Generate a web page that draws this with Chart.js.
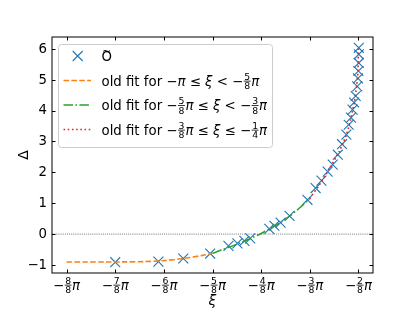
<!DOCTYPE html>
<html>
<head>
<meta charset="utf-8">
<script src="https://cdn.jsdelivr.net/npm/chart.js@4.4.1/dist/chart.umd.min.js"></script>
<style>
  html, body { margin: 0; padding: 0; background: #fff; }
  #wrap { width: 415px; height: 312px; }
</style>
</head>
<body>
<div id="wrap"><canvas id="chart" width="415" height="312"></canvas></div>
<script>
// xi is given in units of pi
const pointXi = [-0.875, -0.764, -0.700, -0.631, -0.584, -0.561, -0.543, -0.528, -0.479, -0.466, -0.450, -0.427,
  -0.381, -0.360, -0.345, -0.329, -0.316, -0.303, -0.292, -0.281, -0.275, -0.269, -0.265, -0.261, -0.257,
  -0.253, -0.251, -0.250, -0.249, -0.249, -0.249];
const pointDelta = [-0.91, -0.89, -0.79, -0.63, -0.38, -0.30, -0.22, -0.14, 0.17, 0.27, 0.37, 0.59,
  1.11, 1.49, 1.73, 2.02, 2.25, 2.57, 2.91, 3.22, 3.54, 3.77, 4.03, 4.26, 4.47,
  4.78, 5.04, 5.28, 5.54, 5.82, 6.03];

const fit1Xi = [-1, -0.95, -0.9, -0.85, -0.8, -0.75, -0.7, -0.65, -0.625];
const fit1Delta = [-0.905, -0.905, -0.905, -0.90, -0.89, -0.86, -0.79, -0.69, -0.62];

const fit2Xi = [-0.625, -0.6, -0.575, -0.55, -0.525, -0.5, -0.475, -0.45, -0.425, -0.4, -0.375];
const fit2Delta = [-0.62, -0.51, -0.39, -0.27, -0.13, 0.02, 0.19, 0.38, 0.6, 0.86, 1.15];

const fit3Xi = [-0.375, -0.35, -0.325, -0.3, -0.29, -0.28, -0.27, -0.265, -0.26, -0.255, -0.252, -0.251, -0.25];
const fit3Delta = [1.15, 1.6, 2.1, 2.66, 2.93, 3.25, 3.7, 4.0, 4.3, 4.75, 5.1, 5.3, 6.0];

const xTickNums = [8, 7, 6, 5, 4, 3, 2];   // tick at -n/8 pi
const yTicks = [-1, 0, 1, 2, 3, 4, 5, 6];
const xRange = [-1.0375, -0.2125];
const yRange = [-1.26, 6.38];

const FONT = '"DejaVu Sans", sans-serif';
const TXT = 13.3;

function toPts(xs, ys) {
  return xs.map((x, i) => ({ x: x, y: ys[i] }));
}

// parts: plain string, {i: 'x'} italic, {n:'5', d:'8'} fraction
function mathWidth(ctx, parts, size) {
  let w = 0;
  parts.forEach(p => {
    if (typeof p === 'string') { ctx.font = size + 'px ' + FONT; w += ctx.measureText(p).width; }
    else if (p.i) { ctx.font = 'italic ' + size + 'px ' + FONT; w += ctx.measureText(p.i).width; }
    else {
      ctx.font = (size * 0.7) + 'px ' + FONT;
      w += Math.max(ctx.measureText(p.n).width, ctx.measureText(p.d).width) + 2;
    }
  });
  return w;
}

function drawMath(ctx, parts, x, y, size, align) {
  let cx = x;
  if (align === 'center') cx = x - mathWidth(ctx, parts, size) / 2;
  ctx.fillStyle = '#000';
  ctx.textBaseline = 'alphabetic';
  ctx.textAlign = 'left';
  parts.forEach(p => {
    if (typeof p === 'string') {
      ctx.font = size + 'px ' + FONT;
      ctx.fillText(p, cx, y);
      cx += ctx.measureText(p).width;
    } else if (p.i) {
      ctx.font = 'italic ' + size + 'px ' + FONT;
      ctx.fillText(p.i, cx, y);
      cx += ctx.measureText(p.i).width;
    } else {
      const s = size * 0.7;
      ctx.font = s + 'px ' + FONT;
      const wn = ctx.measureText(p.n).width, wd = ctx.measureText(p.d).width;
      const w = Math.max(wn, wd) + 2;
      const bar = y - size * 0.33;
      ctx.fillText(p.n, cx + (w - wn) / 2, bar - 1.3);
      ctx.fillText(p.d, cx + (w - wd) / 2, bar + 1.3 + s * 0.73);
      ctx.fillRect(cx + 0.5, bar - 0.4, w - 1, 0.8);
      cx += w;
    }
  });
}

const decorPlugin = {
  id: 'decor',
  afterDraw(chart) {
    const ctx = chart.ctx;
    const a = chart.chartArea;
    const xs = chart.scales.x, ys = chart.scales.y;
    ctx.save();
    // frame
    ctx.strokeStyle = '#000';
    ctx.lineWidth = 1;
    ctx.strokeRect(a.left, a.top, a.right - a.left, a.bottom - a.top);
    // inward ticks on all sides
    ctx.beginPath();
    xTickNums.forEach(n => {
      const px = Math.round(xs.getPixelForValue(-n / 8)) + 0.5;
      ctx.moveTo(px, a.bottom); ctx.lineTo(px, a.bottom - 3.5);
      ctx.moveTo(px, a.top); ctx.lineTo(px, a.top + 3.5);
    });
    yTicks.forEach(v => {
      const py = Math.round(ys.getPixelForValue(v)) + 0.5;
      ctx.moveTo(a.left, py); ctx.lineTo(a.left + 3.5, py);
      ctx.moveTo(a.right, py); ctx.lineTo(a.right - 3.5, py);
    });
    ctx.stroke();
    // x tick labels
    xTickNums.forEach(n => {
      const px = xs.getPixelForValue(-n / 8);
      drawMath(ctx, ['\u2212', { n: String(n), d: '8' }, { i: '\u03c0' }], px, a.bottom + 16.5, TXT, 'center');
    });
    // y tick labels
    ctx.font = TXT + 'px ' + FONT;
    ctx.textAlign = 'right';
    ctx.textBaseline = 'middle';
    ctx.fillStyle = '#000';
    yTicks.forEach(v => {
      ctx.fillText(v < 0 ? '\u2212' + Math.abs(v) : String(v), a.left - 5, ys.getPixelForValue(v) + 0.5);
    });
    // axis labels
    ctx.font = 'italic 14px ' + FONT;
    ctx.textAlign = 'center';
    ctx.textBaseline = 'alphabetic';
    ctx.fillText('\u03be', (a.left + a.right) / 2, 305);
    ctx.save();
    ctx.translate(28, (a.top + a.bottom) / 2);
    ctx.rotate(-Math.PI / 2);
    ctx.font = '14px ' + FONT;
    ctx.textBaseline = 'alphabetic';
    ctx.fillText('\u0394', 0, 0);
    ctx.restore();

    // legend
    const lx = 58.5, ly = 44.5, lw = 214, lh = 103;
    ctx.beginPath();
    ctx.roundRect(lx, ly, lw, lh, 3);
    ctx.fillStyle = 'rgba(255,255,255,0.8)';
    ctx.fill();
    ctx.strokeStyle = '#cccccc';
    ctx.lineWidth = 1;
    ctx.stroke();
    const rows = [56, 80.5, 105, 129.5];
    // marker
    ctx.strokeStyle = '#1f77b4';
    ctx.lineWidth = 1.1;
    ctx.beginPath();
    ctx.moveTo(77.7 - 5, rows[0] - 5); ctx.lineTo(77.7 + 5, rows[0] + 5);
    ctx.moveTo(77.7 - 5, rows[0] + 5); ctx.lineTo(77.7 + 5, rows[0] - 5);
    ctx.stroke();
    const lineStyles = [
      { c: '#ff7f0e', d: [5.5, 2.4] },
      { c: '#2ca02c', d: [9.5, 2.4, 1.6, 2.4] },
      { c: '#d62728', d: [1.6, 2.6] }
    ];
    lineStyles.forEach((s, k) => {
      ctx.strokeStyle = s.c;
      ctx.lineWidth = 1.6;
      ctx.setLineDash(s.d);
      ctx.beginPath();
      ctx.moveTo(63.5, rows[k + 1]); ctx.lineTo(91, rows[k + 1]);
      ctx.stroke();
    });
    ctx.setLineDash([]);
    const tx = 101.5;
    // O with a wide tilde accent
    ctx.fillStyle = '#000';
    ctx.font = TXT + 'px ' + FONT;
    ctx.textAlign = 'left';
    ctx.textBaseline = 'alphabetic';
    ctx.fillText('O', tx, rows[0] + 5);
    const ow = ctx.measureText('O').width;
    ctx.font = '11px ' + FONT;
    ctx.textAlign = 'center';
    ctx.fillText('~', tx + ow / 2, rows[0] - 1.5);
    drawMath(ctx, ['old fit for \u2212', { i: '\u03c0' }, ' \u2264 ', { i: '\u03be' }, ' < \u2212', { n: '5', d: '8' }, { i: '\u03c0' }], tx, rows[1] + 5, TXT, 'left');
    drawMath(ctx, ['old fit for \u2212', { n: '5', d: '8' }, { i: '\u03c0' }, ' \u2264 ', { i: '\u03be' }, ' < \u2212', { n: '3', d: '8' }, { i: '\u03c0' }], tx, rows[2] + 5, TXT, 'left');
    drawMath(ctx, ['old fit for \u2212', { n: '3', d: '8' }, { i: '\u03c0' }, ' \u2264 ', { i: '\u03be' }, ' \u2264 \u2212', { n: '1', d: '4' }, { i: '\u03c0' }], tx, rows[3] + 5, TXT, 'left');
    ctx.restore();
  }
};

new Chart(document.getElementById('chart'), {
  type: 'scatter',
  data: {
    datasets: [
      {
        label: '\u00d5',
        data: toPts(pointXi, pointDelta),
        pointStyle: 'crossRot',
        pointRadius: 7,
        borderColor: '#1f77b4',
        pointBorderWidth: 1.1,
        showLine: false,
        order: 4
      },
      {
        label: 'fit 1',
        data: toPts(fit1Xi, fit1Delta),
        showLine: true,
        pointRadius: 0,
        borderColor: '#ff7f0e',
        borderWidth: 1.6,
        borderDash: [5.5, 2.4],
        tension: 0.3,
        order: 3
      },
      {
        label: 'fit 2',
        data: toPts(fit2Xi, fit2Delta),
        showLine: true,
        pointRadius: 0,
        borderColor: '#2ca02c',
        borderWidth: 1.6,
        borderDash: [9.5, 2.4, 1.6, 2.4],
        tension: 0.3,
        order: 2
      },
      {
        label: 'fit 3',
        data: toPts(fit3Xi, fit3Delta),
        showLine: true,
        pointRadius: 0,
        borderColor: '#d62728',
        borderWidth: 1.6,
        borderDash: [1.6, 2.6],
        tension: 0.2,
        order: 1
      },
      {
        label: 'zero',
        data: toPts(xRange, [0, 0]),
        showLine: true,
        pointRadius: 0,
        borderColor: '#000',
        borderWidth: 0.7,
        borderDash: [0.7, 1.2],
        order: 5
      }
    ]
  },
  options: {
    responsive: false,
    animation: false,
    layout: { padding: { left: 52, right: 42, top: 37, bottom: 39 } },
    plugins: { legend: { display: false }, tooltip: { enabled: false } },
    scales: {
      x: { type: 'linear', display: false, min: xRange[0], max: xRange[1] },
      y: { type: 'linear', display: false, min: yRange[0], max: yRange[1] }
    }
  },
  plugins: [decorPlugin]
});
</script>
</body>
</html>
